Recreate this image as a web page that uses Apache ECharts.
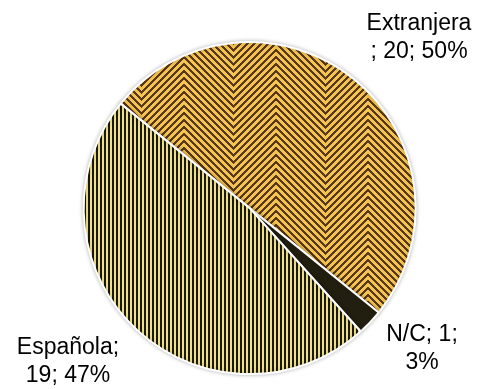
<!DOCTYPE html>
<html><head><meta charset="utf-8">
<script src="https://cdn.jsdelivr.net/npm/echarts@6/dist/echarts.min.js"></script>
<style>html,body{margin:0;padding:0;background:#fff}#c{width:481px;height:389px}</style>
</head><body><div id="c"></div>
<script>
var categories = ['Extranjera', 'N/C', 'Española'];
var values = [20, 1, 19];
var percents = [50, 3, 47];

function zigzag() {
  var W = 92, H = 7;
  var c = document.createElement('canvas');
  c.width = W; c.height = H;
  var g = c.getContext('2d');
  var img = g.createImageData(W, H);
  for (var y = 0; y < H; y++) {
    for (var x = 0; x < W; x++) {
      var v = ((y + Math.abs(x - 49)) % H + H) % H;
      var dark = v < 3;
      var o = (y * W + x) * 4;
      img.data[o] = dark ? 0x5a : 0xf4;
      img.data[o + 1] = dark ? 0x38 : 0xc4;
      img.data[o + 2] = dark ? 0x12 : 0x52;
      img.data[o + 3] = 255;
    }
  }
  g.putImageData(img, 0, 0);
  return c;
}
function stripes() {
  var c = document.createElement('canvas');
  c.width = 4; c.height = 4;
  var g = c.getContext('2d');
  g.fillStyle = '#eee08c'; g.fillRect(0, 0, 4, 4);
  g.fillStyle = '#1b190b'; g.fillRect(0, 0, 2, 4);
  return c;
}
var fills = [
  { image: zigzag(), repeat: 'repeat' },
  '#231f10',
  { image: stripes(), repeat: 'repeat' }
];

var chart = echarts.init(document.getElementById('c'));
chart.setOption({
  animation: false,
  series: [{
    type: 'pie',
    center: ['51.9%', '53.5%'],
    radius: 166,
    startAngle: 141,
    clockwise: true,
    data: categories.map(function (n, i) {
      return { name: n, value: values[i], itemStyle: { color: fills[i] } };
    }),
    itemStyle: { borderColor: '#ffffff', borderWidth: 2, shadowColor: 'rgba(0,0,0,0.25)', shadowBlur: 4 },
    label: {
      position: 'outside',
      fontFamily: 'Liberation Sans, Arial, sans-serif',
      fontSize: 23,
      color: '#000',
      lineHeight: 28,
      align: 'center',
      overflow: 'none',
      formatter: function (p) {
        var i = p.dataIndex;
        if (i === 0) return categories[i] + '\n; ' + values[i] + '; ' + percents[i] + '%';
        if (i === 1) return categories[i] + '; ' + values[i] + ';\n' + percents[i] + '%';
        return categories[i] + ';\n' + values[i] + '; ' + percents[i] + '%';
      }
    },
    labelLine: { show: false },
    labelLayout: function (p) {
      var pos = [[419, 38], [422, 349], [68, 362]][p.dataIndex];
      return { x: pos[0], y: pos[1], align: 'center', verticalAlign: 'middle', width: 160 };
    }
  }]
});
</script></body></html>
